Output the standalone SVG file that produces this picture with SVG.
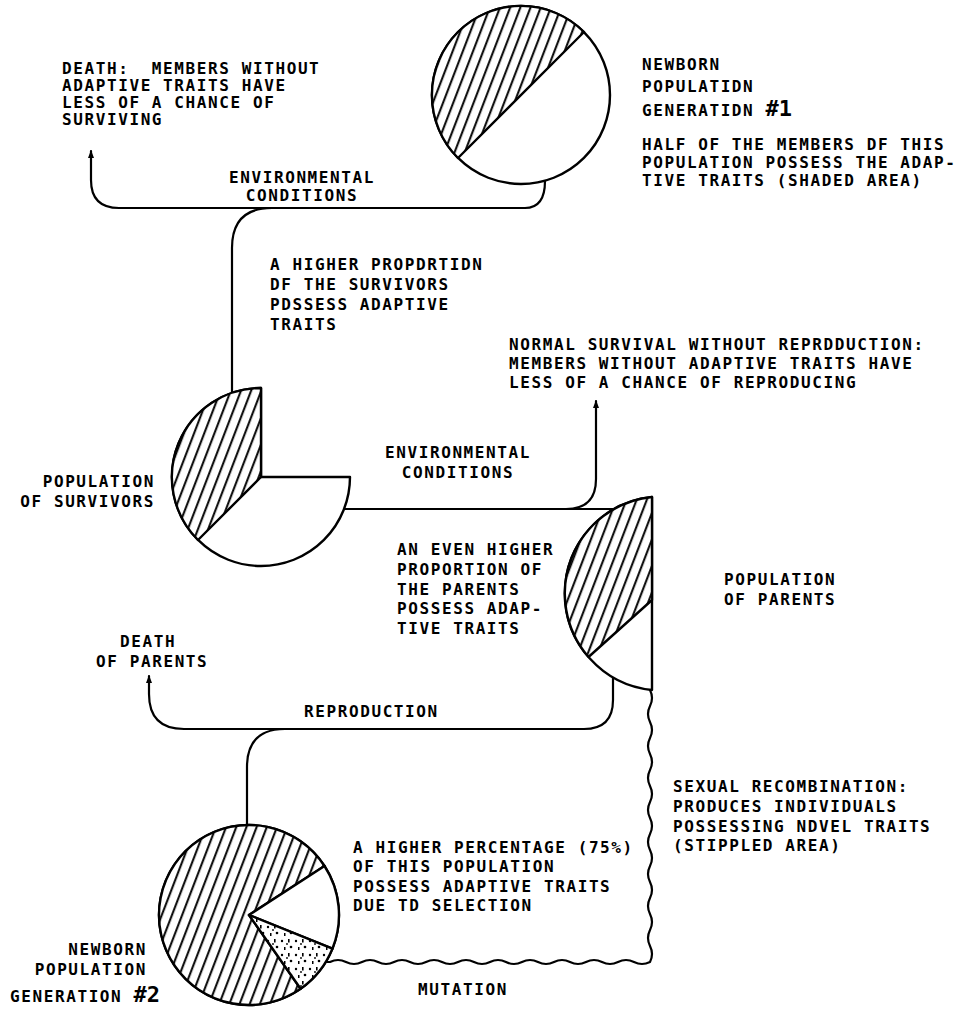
<svg xmlns="http://www.w3.org/2000/svg" width="955" height="1011" viewBox="0 0 955 1011">
<style>
.ln{fill:none;stroke:#000;stroke-width:2.2;stroke-linecap:round;stroke-linejoin:round}
.ol{stroke:#000;stroke-width:2.4;stroke-linejoin:round}
.t{font-family:"DejaVu Sans Mono","Liberation Mono",monospace;font-weight:bold;font-size:16px;letter-spacing:1.6px;fill:#000;white-space:pre}
.big{font-size:22px;letter-spacing:0}
.mid{text-anchor:middle}
.end{text-anchor:end}
</style>
<defs>
<pattern id="hatch" patternUnits="userSpaceOnUse" width="9.5" height="20" patternTransform="rotate(21)">
<rect width="9.5" height="20" fill="#fff"/>
<line x1="4" y1="-2" x2="4" y2="22" stroke="#000" stroke-width="2"/>
</pattern>
<pattern id="stipple" patternUnits="userSpaceOnUse" width="14" height="14">
<rect width="14" height="14" fill="#fff"/>
<circle cx="2" cy="3" r="1.2"/><rect x="8" y="1" width="1.6" height="3.5"/><circle cx="11" cy="9" r="1.3"/><rect x="4" y="9" width="1.5" height="3"/><circle cx="7" cy="6" r="0.9"/>
</pattern>
<marker id="arr" viewBox="0 0 8 6" refX="7" refY="3" markerWidth="8" markerHeight="6" orient="auto" markerUnits="userSpaceOnUse">
<path d="M0,0 L8,3 L0,6 Z" fill="#000"/>
</marker>
</defs>
<rect width="955" height="1011" fill="#fff"/>

<g id="connectors">
<path class="ln" d="M545,181 Q545,208 525,208 L119,208 Q91,208 91,180 L91,151" marker-end="url(#arr)"/>
<path class="ln" d="M272,208 Q232,208 232,248 L232,392"/>
<path class="ln" d="M344,509 L614,509"/>
<path class="ln" d="M566,509 Q596,509 596,479 L596,401" marker-end="url(#arr)"/>
<path class="ln" d="M613,677 L613,700 Q613,729 584,729 L184,729 Q149,729 149,694 L149,676" marker-end="url(#arr)"/>
<path class="ln" d="M285,729 Q247,729 247,767 L247,826"/>
<path class="ln" d="M650,690 q4,8 0,16 t0,16 t0,16 t0,16 t0,16 t0,16 t0,16 t0,16 t0,16 t0,16 t0,16 t0,16 t0,16 t0,16 t0,16 t0,16 t0,16 q-8,4 -16,0 t-16,0 t-16,0 t-16,0 t-16,0 t-16,0 t-16,0 t-16,0 t-16,0 t-16,0 t-16,0 t-16,0 t-16,0 t-16,0 t-16,0 t-16,0 t-16,0 t-16,0 t-16,0 t-16,0 l-5,0"/>
</g>

<g id="gen1">
<circle cx="521" cy="95" r="89" fill="#fff" class="ol"/>
<path d="M584,32 A89,89 0 0 0 458,158 Z" fill="url(#hatch)" class="ol"/>
</g>

<g id="survivors">
<path d="M261,388 L261,477 L350,477 A89,89 0 1 1 261,388 Z" fill="#fff" class="ol"/>
<path d="M261,477 L261,388 A89,89 0 0 0 198,540 Z" fill="url(#hatch)" class="ol"/>
</g>

<g id="parents">
<path d="M652,497 A97,97 0 0 0 652,690 Z" fill="#fff" class="ol"/>
<path d="M652,497 A97,97 0 0 0 588.5,657 L652,600 Z" fill="url(#hatch)" class="ol"/>
</g>

<g id="gen2">
<circle cx="249" cy="915" r="90" fill="#fff" class="ol"/>
<path d="M249,915 L300.6,988.7 A90,90 0 1 1 324.5,866 Z" fill="url(#hatch)" class="ol"/>
<path d="M249,915 L324.5,866 A90,90 0 0 1 332.4,948.7 Z" fill="#fff" class="ol"/>
<path d="M249,915 L332.4,948.7 A90,90 0 0 1 300.6,988.7 Z" fill="url(#stipple)" class="ol"/>
</g>

<g id="labels">
<text class="t" x="62" y="74">DEATH:  MEMBERS WITHOUT</text>
<text class="t" x="62" y="91">ADAPTIVE TRAITS HAVE</text>
<text class="t" x="62" y="108">LESS OF A CHANCE OF</text>
<text class="t" x="62" y="125">SURVIVING</text>

<text class="t mid" x="302" y="183">ENVIRONMENTAL</text>
<text class="t mid" x="302" y="201">CONDITIONS</text>

<text class="t" x="642" y="70">NEWBORN</text>
<text class="t" x="642" y="92">POPULATIDN</text>
<text class="t" x="642" y="116">GENERATIDN <tspan class="big">#1</tspan></text>

<text class="t" x="642" y="150">HALF OF THE MEMBERS DF THIS</text>
<text class="t" x="642" y="168">POPULATION POSSESS THE ADAP-</text>
<text class="t" x="642" y="186">TIVE TRAITS (SHADED AREA)</text>

<text class="t" x="270" y="270">A HIGHER PROPDRTIDN</text>
<text class="t" x="270" y="290">DF THE SURVIVORS</text>
<text class="t" x="270" y="310">PDSSESS ADAPTIVE</text>
<text class="t" x="270" y="330">TRAITS</text>

<text class="t" x="509" y="350">NORMAL SURVIVAL WITHOUT REPRDDUCTION:</text>
<text class="t" x="509" y="369">MEMBERS WITHOUT ADAPTIVE TRAITS HAVE</text>
<text class="t" x="509" y="388">LESS OF A CHANCE OF REPRODUCING</text>

<text class="t mid" x="458" y="458">ENVIRONMENTAL</text>
<text class="t mid" x="458" y="478">CONDITIONS</text>

<text class="t end" x="155" y="487">POPULATION</text>
<text class="t end" x="155" y="507">OF SURVIVORS</text>

<text class="t" x="397" y="555">AN EVEN HIGHER</text>
<text class="t" x="397" y="575">PROPORTION OF</text>
<text class="t" x="397" y="595">THE PARENTS</text>
<text class="t" x="397" y="614">POSSESS ADAP-</text>
<text class="t" x="397" y="634">TIVE TRAITS</text>

<text class="t" x="724" y="585">POPULATION</text>
<text class="t" x="724" y="605">OF PARENTS</text>

<text class="t" x="120" y="647">DEATH</text>
<text class="t" x="96" y="667">OF PARENTS</text>

<text class="t" x="304" y="717">REPRODUCTION</text>

<text class="t" x="673" y="792">SEXUAL RECOMBINATION:</text>
<text class="t" x="673" y="812">PRODUCES INDIVIDUALS</text>
<text class="t" x="673" y="832">POSSESSING NDVEL TRAITS</text>
<text class="t" x="673" y="851">(STIPPLED AREA)</text>

<text class="t" x="353" y="853">A HIGHER PERCENTAGE (75%)</text>
<text class="t" x="353" y="872">OF THIS POPULATION</text>
<text class="t" x="353" y="892">POSSESS ADAPTIVE TRAITS</text>
<text class="t" x="353" y="911">DUE TD SELECTION</text>

<text class="t end" x="147" y="955">NEWBORN</text>
<text class="t end" x="147" y="975">POPULATION</text>
<text class="t" x="10" y="1002">GENERATION <tspan class="big">#2</tspan></text>

<text class="t" x="418" y="995">MUTATION</text>
</g>
</svg>
